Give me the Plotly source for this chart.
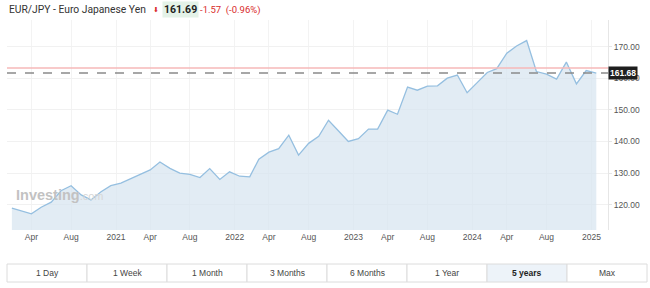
import plotly.graph_objects as go

# ---- data ----
months = [
    "2020-02-01", "2020-03-01", "2020-04-01", "2020-05-01", "2020-06-01", "2020-07-01",
    "2020-08-01", "2020-09-01", "2020-10-01", "2020-11-01", "2020-12-01",
    "2021-01-01", "2021-02-01", "2021-03-01", "2021-04-01", "2021-05-01", "2021-06-01",
    "2021-07-01", "2021-08-01", "2021-09-01", "2021-10-01", "2021-11-01", "2021-12-01",
    "2022-01-01", "2022-02-01", "2022-03-01", "2022-04-01", "2022-05-01", "2022-06-01",
    "2022-07-01", "2022-08-01", "2022-09-01", "2022-10-01", "2022-11-01", "2022-12-01",
    "2023-01-01", "2023-02-01", "2023-03-01", "2023-04-01", "2023-05-01", "2023-06-01",
    "2023-07-01", "2023-08-01", "2023-09-01", "2023-10-01", "2023-11-01", "2023-12-01",
    "2024-01-01", "2024-02-01", "2024-03-01", "2024-04-01", "2024-05-01", "2024-06-01",
    "2024-07-01", "2024-08-01", "2024-09-01", "2024-10-01", "2024-11-01", "2024-12-01",
    "2025-01-01",
]
eurjpy = [
    118.9, 118.1, 117.1, 119.2, 120.8, 124.4,
    126.0, 123.1, 121.5, 124.1, 126.0,
    126.8, 128.3, 129.7, 131.0, 133.5, 131.5,
    130.0, 129.6, 128.6, 131.4, 128.0, 130.4,
    129.0, 128.8, 134.4, 136.6, 137.7, 142.0,
    135.7, 139.4, 141.6, 146.7, 143.3, 140.0,
    140.9, 143.9, 143.9, 149.9, 148.6, 157.2,
    156.2, 157.5, 157.6, 160.0, 161.0, 155.4,
    158.6, 161.8, 163.0, 167.9, 170.2, 171.9,
    162.1, 161.3, 159.7, 165.1, 158.2, 162.4,
    161.6,
]
prev_close = 163.26
last_price = 161.68

x_tick_vals = ["2020-04-01", "2020-08-01", "2020-12-17", "2021-04-01", "2021-08-01",
               "2021-12-17", "2022-04-01", "2022-08-01", "2022-12-17", "2023-04-01",
               "2023-08-01", "2023-12-17", "2024-04-01", "2024-08-01", "2024-12-17"]
x_tick_text = ["Apr", "Aug", "2021", "Apr", "Aug", "2022", "Apr", "Aug", "2023", "Apr",
               "Aug", "2024", "Apr", "Aug", "2025"]
y_tick_vals = [120, 130, 140, 150, 160, 170]
y_tick_text = ["120.00", "130.00", "140.00", "150.00", "160.00", "170.00"]

buttons = ["1 Day", "1 Week", "1 Month", "3 Months", "6 Months", "1 Year", "5 years", "Max"]
selected = "5 years"

# ---- figure ----
W, H = 650, 288
ML, MR, MT, MB = 7, 42, 20, 58
PW, PH = W - ML - MR, H - MT - MB


def px_x(px):
    return (px - ML) / PW


def px_y(py):
    return (H - MB - py) / PH


fig = go.Figure()
fig.add_trace(go.Scatter(
    x=months, y=eurjpy, mode="lines",
    line=dict(color="#95bfe0", width=1.3),
    fill="tozeroy", fillcolor="rgba(214,228,240,0.7)",
    hoverinfo="skip", showlegend=False,
))

HF = "Roboto, Inter, Liberation Sans, sans-serif"
AF = "Liberation Sans, Arial, sans-serif"

ann = []
# header
ann.append(dict(xref="paper", yref="paper", x=px_x(7), y=px_y(10), xanchor="left", yanchor="middle",
                text="EUR/JPY - Euro Japanese Yen", showarrow=False,
                font=dict(family=HF, size=10.3, color="#333333")))
ann.append(dict(xref="paper", yref="paper", x=px_x(156), y=px_y(10), xanchor="center", yanchor="middle",
                text="⬇", showarrow=False,
                font=dict(family="DejaVu Sans", size=7, color="#d92b2b")))
ann.append(dict(xref="paper", yref="paper", x=px_x(162), y=px_y(10), xanchor="left", yanchor="middle",
                text="<b>161.69</b>", showarrow=False, bgcolor="#e4f2e8", borderpad=1,
                font=dict(family=HF, size=10.5, color="#222222")))
ann.append(dict(xref="paper", yref="paper", x=px_x(198), y=px_y(10), xanchor="left", yanchor="middle",
                text="-1.57  (-0.96%)", showarrow=False,
                font=dict(family=HF, size=9.5, color="#d92b2b")))
# last price tag
ann.append(dict(xref="paper", yref="y", x=1.0, y=last_price, xanchor="left", yanchor="middle",
                text="<b>161.68</b>", showarrow=False, bgcolor="#1e1e1e", borderpad=1,
                font=dict(family=AF, size=8.5, color="#ffffff")))
# watermark
ann.append(dict(xref="paper", yref="paper", x=px_x(14), y=px_y(195), xanchor="left", yanchor="middle",
                text="<b>Investing</b><span style='font-size:11px;color:#d6d6d6'>.com</span>", showarrow=False,
                font=dict(family=AF, size=14.5, color="#c2c2c2")))

shapes = []
bx0, bw, by0, by1 = 7, 80, 264, 282
for i, lab in enumerate(buttons):
    x0 = bx0 + i * bw
    sel = lab == selected
    shapes.append(dict(type="rect", xref="paper", yref="paper",
                       x0=px_x(x0), x1=px_x(x0 + bw), y0=px_y(by1), y1=px_y(by0),
                       line=dict(color="#dcdcdc", width=1),
                       fillcolor="#edf3f9" if sel else "#ffffff", layer="above"))
    ann.append(dict(xref="paper", yref="paper", x=px_x(x0 + bw / 2), y=px_y((by0 + by1) / 2),
                    xanchor="center", yanchor="middle", showarrow=False,
                    text=f"<b>{lab}</b>" if sel else lab,
                    font=dict(family=AF, size=8.5,
                              color="#222222" if sel else "#444444")))

shapes.append(dict(type="line", xref="paper", yref="y", x0=0, x1=1, y0=prev_close, y1=prev_close,
                   line=dict(color="#f6b8b8", width=1.5), layer="above"))
shapes.append(dict(type="line", xref="paper", yref="y", x0=0, x1=1, y0=last_price, y1=last_price,
                   line=dict(color="#8a8a8a", width=1.5, dash="dash"), layer="above"))

fig.update_layout(
    width=W, height=H,
    margin=dict(l=ML, r=MR, t=MT, b=MB),
    paper_bgcolor="white", plot_bgcolor="white",
    annotations=ann, shapes=shapes,
    xaxis=dict(range=["2020-01-17", "2025-02-06"], tickmode="array",
               tickvals=x_tick_vals, ticktext=x_tick_text,
               showgrid=True, gridcolor="#f3f3f3", gridwidth=1,
               zeroline=False, showline=False, ticks="",
               tickfont=dict(family=AF, size=8.5, color="#555555")),
    yaxis=dict(range=[112, 178.4], side="right", tickmode="array",
               tickvals=y_tick_vals, ticktext=y_tick_text,
               showgrid=True, gridcolor="#f1f1f1", gridwidth=1,
               zeroline=False, showline=True, linecolor="#e6e6e6", linewidth=1,
               ticks="outside", ticklen=3, tickcolor="#e6e6e6",
               tickfont=dict(family=AF, size=8.5, color="#555555")),
    hovermode=False,
)

fig.write_html("out.html")
